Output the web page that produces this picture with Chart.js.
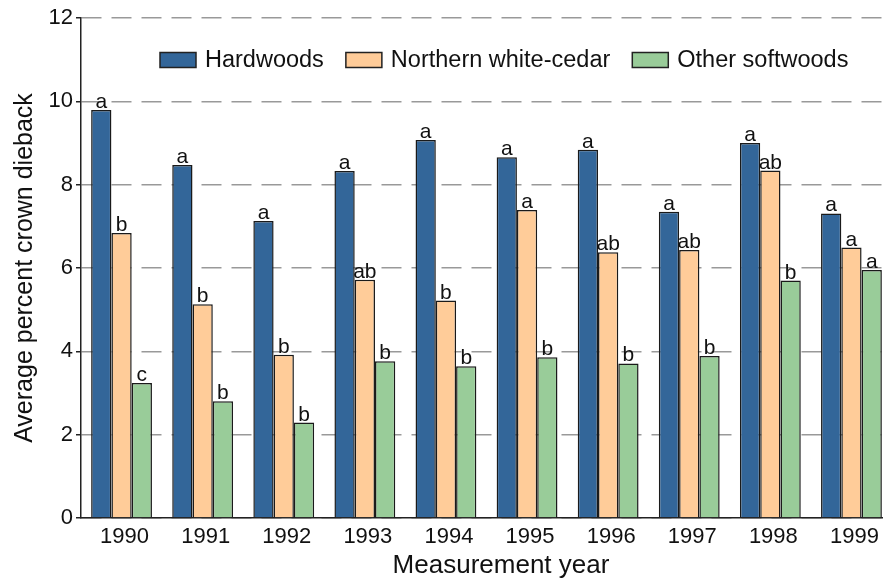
<!DOCTYPE html>
<html>
<head>
<meta charset="utf-8">
<script src="https://cdn.jsdelivr.net/npm/chart.js@4"></script>
<style>
  html, body { margin: 0; padding: 0; overflow: hidden; background: #fff; }
  canvas { display: block; }
</style>
</head>
<body>
<canvas id="chart" width="893" height="584"></canvas>
<script>
const years = ["1990", "1991", "1992", "1993", "1994", "1995", "1996", "1997", "1998", "1999"];
const seriesNames = ["Hardwoods", "Northern white-cedar", "Other softwoods"];
const hardwoods = [9.79, 8.47, 7.13, 8.33, 9.07, 8.66, 8.84, 7.35, 9.0, 7.31];
const whiteCedar = [6.84, 5.13, 3.92, 5.72, 5.22, 7.39, 6.38, 6.43, 8.34, 6.49];
const otherSoft = [3.24, 2.8, 2.29, 3.76, 3.64, 3.86, 3.71, 3.89, 5.7, 5.95];
const hardwoodLetters = ["a", "a", "a", "a", "a", "a", "a", "a", "a", "a"];
const cedarLetters = ["b", "b", "b", "ab", "b", "a", "ab", "ab", "ab", "a"];
const otherLetters = ["c", "b", "b", "b", "b", "b", "b", "b", "b", "a"];
const yTicks = [0, 2, 4, 6, 8, 10, 12];
const xTitle = "Measurement year";

const FONT = "'Liberation Sans', Arial, sans-serif";
const colors = ["#336699", "#ffcc99", "#99cc99"];
const letters = [hardwoodLetters, cedarLetters, otherLetters];

// letters of significance above each bar
const barLetters = {
  id: "barLetters",
  afterDatasetsDraw(chart) {
    const ctx = chart.ctx;
    ctx.save();
    ctx.font = "21px " + FONT;
    ctx.fillStyle = "#111";
    ctx.textAlign = "center";
    ctx.textBaseline = "alphabetic";
    chart.data.datasets.forEach((ds, i) => {
      const meta = chart.getDatasetMeta(i);
      meta.data.forEach((bar, j) => {
        ctx.fillText(letters[i][j], bar.x, bar.y - 2);
      });
    });
    ctx.restore();
  }
};

// legend drawn inside the plot area, plus the x title (centred on the full figure)
const innerLegend = {
  id: "innerLegend",
  afterDraw(chart) {
    const ctx = chart.ctx;
    ctx.save();
    ctx.font = "23.5px " + FONT;
    ctx.textBaseline = "middle";
    let x = 160;
    const y = 60;
    chart.data.datasets.forEach((ds) => {
      ctx.fillStyle = ds.backgroundColor;
      ctx.fillRect(x, y - 7.5, 36, 15);
      ctx.strokeStyle = "#222";
      ctx.lineWidth = 1.5;
      ctx.strokeRect(x, y - 7.5, 36, 15);
      ctx.fillStyle = "#111";
      ctx.fillText(ds.label, x + 45, y + 1);
      x += 45 + ctx.measureText(ds.label).width + 22;
    });

    ctx.font = "26px " + FONT;
    ctx.textAlign = "center";
    ctx.fillText(xTitle, chart.chartArea.left + 420, 566);
    ctx.restore();
  }
};

const makeSet = (i, values) => ({
  label: seriesNames[i],
  data: values,
  backgroundColor: colors[i],
  borderColor: "#1a1a1a",
  borderWidth: 1.5,
  borderSkipped: "bottom",
  categoryPercentage: 0.75,
  barPercentage: 1.0,
});

new Chart(document.getElementById("chart"), {
  type: "bar",
  data: {
    labels: years,
    datasets: [makeSet(0, hardwoods), makeSet(1, whiteCedar), makeSet(2, otherSoft)],
  },
  options: {
    responsive: false,
    animation: false,
    layout: { padding: { top: 18, left: 0, right: 1, bottom: 0 } },
    plugins: {
      legend: { display: false },
      tooltip: { enabled: false },
    },
    scales: {
      x: {
        grid: { display: false, drawTicks: false },
        border: { display: true, color: "#222", width: 1.5 },
        ticks: { color: "#111", font: { family: FONT, size: 22 }, padding: 6, labelOffset: 3 },
        title: { display: false },
        afterFit(scale) { scale.height = 66; },
      },
      y: {
        min: 0,
        max: 12,
        afterBuildTicks(scale) { scale.ticks = yTicks.map((v) => ({ value: v })); },
        grid: {
          color: "#999",
          lineWidth: 1.5,
          tickColor: "#222",
          tickLength: 5,
          tickWidth: 1.5,
        },
        border: { display: true, color: "#222", width: 1.5, dash: [20, 10] },
        ticks: { color: "#111", font: { family: FONT, size: 22 }, padding: 3 },
        title: {
          display: true,
          text: "Average percent crown dieback",
          color: "#111",
          font: { family: FONT, size: 25 },
          padding: { top: 10, bottom: 0 },
        },
        afterFit(scale) { scale.width = 81; },
      },
    },
  },
  plugins: [barLetters, innerLegend],
});
</script>
</body>
</html>
